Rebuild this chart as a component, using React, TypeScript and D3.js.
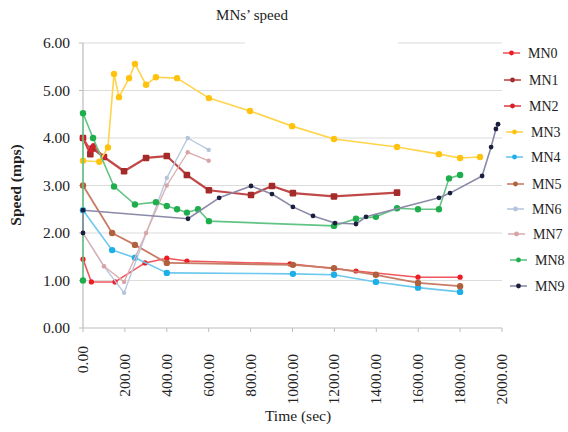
import React from "react";
import * as d3 from "d3";

const title = "MNs\u2019 speed";
const xTicks = [0, 200, 400, 600, 800, 1000, 1200, 1400, 1600, 1800, 2000];
const yTicks = [0, 1, 2, 3, 4, 5, 6];
const seriesNames = ["MN0", "MN1", "MN2", "MN3", "MN4", "MN5", "MN6", "MN7", "MN8", "MN9"];

// [time (sec), speed (mps)]
const mn0: [number, number][] = [[0, 1.45], [40, 0.97], [153, 0.97], [296, 1.37], [400, 1.47], [496, 1.41], [988, 1.35], [1303, 1.2], [1599, 1.07], [1800, 1.07]];
const mn1: [number, number][] = [[0, 4.0], [35, 3.66], [45, 3.78], [100, 3.6], [196, 3.3], [301, 3.58], [400, 3.62], [496, 3.22], [601, 2.9], [802, 2.8], [902, 2.99], [1002, 2.84], [1198, 2.77], [1499, 2.85]];
const mn2: [number, number][] = [[0, 4.0], [38, 3.74], [50, 3.84], [100, 3.6]];
const mn3: [number, number][] = [[0, 3.52], [78, 3.5], [119, 3.8], [148, 5.35], [172, 4.86], [220, 5.26], [248, 5.56], [301, 5.12], [348, 5.28], [449, 5.26], [601, 4.84], [797, 4.57], [998, 4.25], [1198, 3.98], [1499, 3.81], [1699, 3.66], [1800, 3.58], [1895, 3.6]];
const mn4: [number, number][] = [[0, 2.48], [139, 1.64], [248, 1.48], [400, 1.16], [1002, 1.14], [1198, 1.12], [1398, 0.97], [1599, 0.85], [1800, 0.76]];
const mn5: [number, number][] = [[0, 3.0], [139, 2.0], [248, 1.75], [400, 1.37], [1002, 1.33], [1198, 1.26], [1398, 1.12], [1599, 0.95], [1800, 0.88]];
const mn6: [number, number][] = [[0, 2.0], [100, 1.3], [196, 0.74], [400, 3.16], [500, 4.0], [600, 3.75]];
const mn7: [number, number][] = [[0, 2.0], [100, 1.3], [196, 0.97], [301, 2.0], [400, 3.0], [500, 3.7], [600, 3.52]];
const mn8: [number, number][] = [[0, 1.0], [0, 4.52], [48, 4.0], [148, 2.98], [248, 2.6], [348, 2.65], [400, 2.57], [449, 2.5], [496, 2.43], [549, 2.5], [601, 2.25], [1198, 2.15], [1303, 2.3], [1398, 2.34], [1499, 2.52], [1599, 2.5], [1699, 2.5], [1747, 3.15], [1800, 3.22]];
const mn9: [number, number][] = [[0, 2.0], [0, 2.48], [501, 2.3], [650, 2.74], [802, 2.99], [902, 2.82], [1002, 2.55], [1098, 2.36], [1203, 2.21], [1303, 2.19], [1351, 2.34], [1699, 2.74], [1752, 2.84], [1905, 3.2], [1948, 3.81], [1971, 4.19], [1981, 4.29]];

const seriesData = [mn0, mn1, mn2, mn3, mn4, mn5, mn6, mn7, mn8, mn9];
const markerColors = ["#ec1c24", "#a52a2a", "#d4202a", "#ffc20e", "#1eaee8", "#b0603c", "#b4c4dc", "#d8a4a8", "#1fae4c", "#1b1f3e"];
const lineColors = ["#f0575c", "#c04848", "#e04448", "#ffd34a", "#6cc8ee", "#c87c66", "#b8c8e0", "#dcb0b2", "#62c484", "#8a8aa8"];
const markerR = [2.6, 3.4, 2.6, 3.2, 3.2, 3.2, 2.2, 2.2, 3.2, 2.4];
const lineW = [1.6, 2.2, 1.6, 1.6, 1.6, 1.8, 1.4, 1.4, 1.6, 1.6];

const legendY = [53, 80, 106, 132, 157, 184, 209, 234, 260, 286];
const legendTextX = [528, 529, 529, 531, 531, 532, 532, 533, 535, 535];

const serif = "Liberation Serif, Times New Roman, serif";
const txt = { fontFamily: serif } as React.CSSProperties;

export default function App() {
  const x = d3.scaleLinear().domain([0, 2000]).range([83, 502]);
  const y = d3.scaleLinear().domain([0, 6]).range([328, 43]);
  const line = d3
    .line<[number, number]>()
    .x((d) => x(d[0]))
    .y((d) => y(d[1]));

  return (
    <svg
      width={568}
      height={432}
      style={{ position: "absolute", left: 0, top: 0, display: "block", background: "#fff" }}
    >
      <rect x={0} y={0} width={568} height={432} fill="#fff" />
      {/* gridlines */}
      {yTicks.filter((t) => t > 0).map((t) => (
        <line key={"g" + t} x1={83} x2={502} y1={y(t)} y2={y(t)} stroke="#dcdcdc" strokeWidth={1.2} />
      ))}
      <rect x={245} y={38} width={153} height={10} fill="#fff" />
      {/* y axis */}
      <line x1={83} x2={83} y1={y(6)} y2={y(0)} stroke="#bdbdbd" strokeWidth={1.2} />
      {yTicks.map((t) => (
        <g key={"yt" + t}>
          <line x1={79} x2={83} y1={y(t)} y2={y(t)} stroke="#bdbdbd" />
          <text x={70} y={y(t)} dy="0.35em" textAnchor="end" fontSize={15.5} fill="#222" style={txt}>
            {t.toFixed(2)}
          </text>
        </g>
      ))}
      {/* x axis */}
      <line x1={83} x2={502} y1={y(0)} y2={y(0)} stroke="#bdbdbd" strokeWidth={1.2} />
      {xTicks.map((t, i) => (
        <g key={"xt" + t}>
          <line x1={x(t)} x2={x(t)} y1={y(0)} y2={y(0) + 4} stroke="#bdbdbd" />
          <text
            transform={`translate(${x(t) + 5},${i === 0 ? 346 : 354}) rotate(-90)`}
            textAnchor="end"
            fontSize={15.5}
            fill="#222"
            style={txt}
          >
            {t.toFixed(2)}
          </text>
        </g>
      ))}
      {/* series */}
      {seriesData.map((s, i) => (
        <g key={"s" + i}>
          <path d={line(s) || ""} fill="none" stroke={lineColors[i]} strokeWidth={lineW[i]} strokeLinejoin="round" />
          {s.map((d, j) =>
            i === 1 ? (
              <rect
                key={j}
                x={x(d[0]) - 3.3}
                y={y(d[1]) - 3.3}
                width={6.6}
                height={6.6}
                rx={1.2}
                fill={markerColors[i]}
              />
            ) : (
              <circle key={j} cx={x(d[0])} cy={y(d[1])} r={markerR[i]} fill={markerColors[i]} />
            )
          )}
        </g>
      ))}
      {/* title */}
      <text x={252} y={20} textAnchor="middle" fontSize={15} fill="#222" style={txt}>
        {title}
      </text>
      {/* axis titles */}
      <text x={298} y={421} textAnchor="middle" fontSize={15.5} fill="#222" style={txt}>
        Time (sec)
      </text>
      <text
        transform="translate(21,185) rotate(-90)"
        textAnchor="middle"
        fontSize={15.5}
        fontWeight="bold"
        fill="#222"
        style={txt}
      >
        Speed (mps)
      </text>
      {/* legend */}
      {seriesNames.map((n, i) => (
        <g key={"l" + n}>
          <line x1={legendTextX[i] - 25} x2={legendTextX[i] - 8} y1={legendY[i]} y2={legendY[i]} stroke={lineColors[i]} strokeWidth={1.6} />
          <circle cx={legendTextX[i] - 16.5} cy={legendY[i]} r={2.4} fill={markerColors[i]} />
          <text x={legendTextX[i]} y={legendY[i]} dy="0.35em" fontSize={14} fill="#222" style={txt}>
            {n}
          </text>
        </g>
      ))}
    </svg>
  );
}
